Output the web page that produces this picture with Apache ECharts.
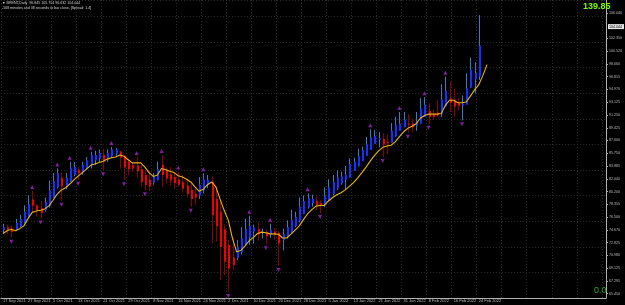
<!DOCTYPE html>
<html>
<head>
<meta charset="utf-8">
<script src="https://cdn.jsdelivr.net/npm/echarts@6/dist/echarts.min.js"></script>
<style>
  html, body { margin: 0; padding: 0; background: #000; }
  #chart { width: 625px; height: 305px; }
</style>
</head>
<body>
<div id="chart"></div>
<script>
// date labels under the axis, one every 6 bars
var dateLabels = ['17 Sep 2021', '27 Sep 2021', '5 Oct 2021', '13 Oct 2021', '21 Oct 2021', '29 Oct 2021',
    '8 Nov 2021', '16 Nov 2021', '24 Nov 2021', '2 Dec 2021', '10 Dec 2021', '20 Dec 2021', '28 Dec 2021',
    '5 Jan 2022', '13 Jan 2022', '21 Jan 2022', '31 Jan 2022', '8 Feb 2022', '16 Feb 2022', '24 Feb 2022'];

// price scale labels on the right
var priceLabels = [65.450, 67.295, 69.125, 70.980, 72.825, 74.670, 76.500, 78.355, 80.200, 82.040, 83.885,
    85.750, 87.600, 89.425, 91.250, 93.125, 94.970, 96.815, 98.660, 100.520, 102.350, 106.040];
var lastPrice = 104.044;

// heikin ashi bars
var haOpen = [74.65, 75.05, 74.85, 74.65, 75.15, 75.75, 76.55, 79.05, 78.25, 77.8,
    77.5, 78.1, 79.3, 80.85, 82.2, 80.85, 81.7, 82.65, 83.35, 82.95,
    83.55, 84.2, 84.7, 85.0, 85.5, 84.9, 85.3, 85.7, 86.0, 85.4,
    84.5, 84.0, 84.0, 83.45, 82.6, 81.9, 81.5, 81.9, 84.1, 83.2,
    82.7, 82.3, 81.9, 81.6, 81.1, 80.45, 79.85, 79.65, 80.4, 81.2,
    81.6, 79.15, 77.3, 74.75, 72.5, 70.7, 70.6, 71.4, 72.5, 73.6,
    74.45, 74.75, 74.25, 74.35, 74.05, 74.45, 74.25, 73.2, 73.65, 74.35,
    75.25, 75.95, 77.0, 77.95, 78.55, 78.85, 78.55, 78.35, 78.95, 79.85,
    80.7, 81.4, 81.9, 82.25, 83.2, 83.85, 84.6, 85.4, 86.2, 87.1,
    87.7, 87.8, 87.4, 87.3, 88.15, 89.0, 89.5, 90.05, 90.0, 89.75,
    90.0, 91.0, 91.85, 91.4, 91.6, 91.4, 92.5, 93.7, 93.4, 93.0,
    92.6, 92.8, 95.25, 96.45, 96.85];
var haClose = [75.05, 74.65, 74.35, 75.65, 76.25, 77.3, 78.35, 78.15, 77.5, 77.1,
    78.65, 80.35, 81.7, 82.85, 80.95, 82.2, 83.65, 83.75, 82.85, 84.05,
    84.75, 85.5, 85.5, 85.8, 84.5, 85.8, 86.3, 86.3, 85.1, 83.7,
    83.45, 83.55, 83.15, 81.6, 81.15, 80.95, 82.4, 83.45, 82.6, 82.1,
    81.8, 81.4, 81.2, 80.6, 79.85, 79.15, 79.35, 81.2, 82.0, 81.9,
    76.8, 75.25, 72.2, 70.1, 69.1, 69.6, 72.15, 73.5, 74.75, 75.25,
    75.05, 74.05, 74.35, 73.7, 74.65, 73.95, 72.7, 74.05, 75.05, 76.05,
    76.55, 78.0, 78.85, 79.25, 79.15, 78.25, 78.15, 79.55, 80.8, 81.6,
    82.2, 82.4, 82.6, 84.2, 84.5, 85.3, 86.2, 87.05, 88.0, 88.25,
    87.9, 87.0, 87.2, 89.0, 89.8, 90.05, 90.6, 89.95, 89.5, 90.3,
    92.2, 92.75, 91.0, 91.0, 91.2, 93.5, 94.75, 93.0, 92.5, 92.6,
    92.9, 95.15, 97.8, 97.35, 101.3];
var haLow = [74.15, 74.05, 73.55, 74.55, 75.05, 75.65, 76.45, 77.3, 76.6, 76.3,
    77.3, 77.9, 79.3, 80.65, 78.9, 80.55, 81.6, 82.45, 81.9, 82.65,
    83.35, 83.55, 84.05, 84.5, 83.3, 84.5, 85.1, 85.4, 83.5, 81.85,
    82.55, 83.05, 82.25, 80.9, 80.4, 80.3, 81.2, 81.8, 80.9, 81.4,
    81.1, 80.6, 80.9, 80.05, 79.45, 78.0, 78.3, 79.15, 79.95, 80.7,
    72.7, 73.0, 67.4, 68.1, 65.7, 68.9, 70.3, 71.1, 72.4, 72.5,
    72.7, 73.1, 73.45, 72.6, 73.55, 73.25, 69.45, 71.7, 73.45, 74.25,
    75.05, 75.75, 77.0, 77.75, 78.05, 77.5, 77.1, 77.95, 78.85, 79.65,
    80.4, 81.2, 80.6, 82.25, 83.2, 83.85, 84.6, 85.4, 86.2, 87.1,
    86.6, 85.2, 85.6, 87.3, 88.15, 89.0, 89.5, 88.7, 88.8, 89.0,
    90.0, 91.0, 90.0, 90.6, 91.0, 91.0, 92.5, 91.7, 91.0, 92.0,
    90.5, 92.8, 95.15, 94.4, 96.35];
var haHigh = [75.55, 75.45, 75.25, 76.25, 76.85, 78.25, 79.65, 80.3, 78.35, 78.9,
    79.35, 81.8, 82.9, 83.55, 83.0, 82.9, 84.5, 84.5, 83.75, 84.5,
    85.2, 85.95, 86.1, 86.3, 86.4, 86.3, 86.65, 86.5, 86.1, 85.5,
    84.9, 84.5, 85.2, 84.05, 83.2, 83.2, 82.9, 84.5, 85.5, 83.75,
    83.75, 82.9, 83.1, 82.6, 82.0, 81.3, 80.75, 82.3, 82.85, 82.6,
    82.4, 80.9, 78.85, 75.45, 73.2, 73.6, 73.2, 75.05, 76.3, 76.7,
    75.45, 75.75, 74.85, 74.75, 75.55, 74.95, 74.55, 74.85, 76.05, 77.6,
    77.3, 79.35, 79.65, 79.95, 79.75, 79.65, 78.95, 80.8, 82.0, 82.6,
    83.3, 83.1, 83.9, 85.0, 85.1, 86.4, 86.7, 88.1, 89.2, 89.1,
    88.8, 88.6, 88.5, 90.1, 91.0, 91.7, 91.7, 91.4, 90.7, 91.7,
    93.7, 93.85, 93.05, 92.0, 93.4, 95.7, 96.8, 96.1, 95.0, 93.7,
    94.1, 97.3, 99.55, 98.9, 105.7];

// shifted moving average (yellow line), two bars past the last candle
var maLine = [74.15, 74.55, 74.75, 74.55, 74.85, 75.25, 76.3, 77.2, 77.4, 77.5,
    77.7, 78.15, 78.95, 79.85, 80.45, 80.75, 81.3, 81.9, 82.45, 82.95,
    83.45, 84.0, 84.2, 84.4, 84.6, 84.9, 85.1, 85.2, 85.5, 85.3,
    84.8, 84.35, 84.35, 84.35, 83.75, 82.95, 82.4, 82.6, 83.55, 83.35,
    83.15, 82.95, 82.5, 82.3, 82.0, 81.6, 80.9, 80.25, 80.55, 81.2,
    81.6, 80.9, 79.15, 77.5, 76.05, 73.4, 71.5, 71.7, 72.35, 73.1,
    73.6, 74.15, 74.35, 74.25, 74.1, 74.1, 74.05, 73.5, 73.5, 74.05,
    74.65, 75.25, 76.15, 77.0, 77.6, 78.1, 78.2, 78.2, 78.85, 79.35,
    79.75, 80.05, 80.45, 80.95, 81.5, 82.2, 82.95, 83.75, 84.6, 85.4,
    86.1, 86.6, 86.8, 86.9, 87.4, 88.15, 88.85, 89.35, 89.65, 90.0,
    90.8, 91.2, 91.4, 91.4, 91.4, 91.5, 92.65, 93.4, 93.4, 93.05,
    93.05, 93.15, 94.0, 94.9, 95.65, 97.0, 98.55];

// bars carrying a fractal arrow
var fractalUp = [7, 13, 16, 21, 26, 32, 38, 42, 48, 59, 64, 73, 88, 95, 101, 106];
var fractalDown = [2, 9, 14, 18, 24, 29, 34, 45, 54, 63, 66, 76, 91, 97, 102, 110];

var slotCount = 145;

var categories = [];
for (var i = 0; i < slotCount; i++) categories.push(String(i));

var barData = haOpen.map(function (o, i) {
    return [i, o, haClose[i], haLow[i], haHigh[i]];
});
var upData = fractalUp.map(function (i) { return [i, haHigh[i]]; });
var downData = fractalDown.map(function (i) { return [i, haLow[i]]; });

function renderBar(params, api) {
    var i = api.value(0);
    var o = api.value(1), c = api.value(2), l = api.value(3), h = api.value(4);
    var top = api.coord([i, h]);
    var bot = api.coord([i, l]);
    var po = api.coord([i, o]);
    var pc = api.coord([i, c]);
    var col = Math.round(top[0]);
    var up = c >= o;
    var y1 = Math.min(po[1], pc[1]);
    var y2 = Math.max(po[1], pc[1]);
    return {
        type: 'group',
        children: [
            {
                type: 'line',
                shape: { x1: col + 0.5, y1: top[1], x2: col + 0.5, y2: bot[1] },
                style: { stroke: up ? '#3a7cc6' : '#8e0000', lineWidth: 1 }
            },
            {
                type: 'rect',
                shape: { x: col, y: y1, width: 2, height: Math.max(1, y2 - y1) },
                style: { fill: up ? '#1432ff' : '#f00000' }
            }
        ]
    };
}

var chart = echarts.init(document.getElementById('chart'), null, { renderer: 'canvas' });

var option = {
    backgroundColor: '#000000',
    animation: false,
    grid: { left: 0, right: 18, top: 0, bottom: 7 },
    xAxis: {
        type: 'category',
        data: categories,
        boundaryGap: true,
        axisLine: { lineStyle: { color: '#b0b0b0', width: 1 } },
        axisTick: { interval: 5, alignWithLabel: true, length: 2, lineStyle: { color: '#b0b0b0' } },
        axisLabel: {
            interval: 5,
            align: 'left',
            margin: 1,
            color: '#bdbdbd',
            fontSize: 4,
            fontFamily: 'Liberation Sans',
            formatter: function (v, idx) {
                return dateLabels[idx / 6] || '';
            }
        },
        splitLine: { show: true, interval: 5, lineStyle: { color: '#2a2a2a', type: [1, 2], width: 1 } }
    },
    yAxis: [
        {
            type: 'value',
            position: 'right',
            min: 64.83,
            max: 107.89,
            axisLine: { show: true, lineStyle: { color: '#b0b0b0', width: 1 } },
            axisTick: { show: true, length: 2, customValues: priceLabels, lineStyle: { color: '#b0b0b0' } },
            axisLabel: {
                customValues: priceLabels,
                margin: 3,
                color: '#bdbdbd',
                fontSize: 3.6,
                fontFamily: 'Liberation Sans',
                formatter: function (v) { return v.toFixed(3); }
            },
            splitLine: { show: false }
        },
        {
            // only used for the dotted horizontal grid
            type: 'value',
            min: 0,
            max: 298,
            interval: 25.6,
            show: true,
            axisLine: { show: false },
            axisTick: { show: false },
            axisLabel: { show: false },
            splitLine: { show: true, lineStyle: { color: '#2a2a2a', type: [1, 2], width: 1 } }
        }
    ],
    series: [
        {
            name: 'Heikin Ashi',
            type: 'custom',
            renderItem: renderBar,
            encode: { x: 0, y: [1, 2, 3, 4] },
            data: barData,
            z: 2
        },
        {
            name: 'MA',
            type: 'line',
            data: maLine,
            showSymbol: false,
            symbol: 'none',
            lineStyle: { color: '#e6b41c', width: 1.1 },
            z: 3
        },
        {
            name: 'Fractal up',
            type: 'scatter',
            data: upData,
            symbol: 'triangle',
            symbolSize: [4, 4],
            symbolOffset: [0, -4],
            itemStyle: { color: '#a523c8' },
            z: 4
        },
        {
            name: 'Fractal down',
            type: 'scatter',
            data: downData,
            symbol: 'triangle',
            symbolRotate: 180,
            symbolSize: [4, 4],
            symbolOffset: [0, 4],
            itemStyle: { color: '#a523c8' },
            z: 4
        }
    ]
};
chart.setOption(option);

// texts drawn by the terminal and the current price tag on the scale
var tagY = chart.convertToPixel({ yAxisIndex: 0 }, lastPrice);
chart.setOption({
    graphic: [
        {
            type: 'text', left: 2, top: 1, z: 10,
            style: {
                text: '\u25BC BRENT,Daily  96.845 105.754 96.632 104.044\n-568 minutes and 38 seconds to bar close. [Spread: 1.4]',
                fill: '#d0d0d0', font: '3.6px "Liberation Sans"', lineHeight: 4.5
            }
        },
        {
            type: 'text', left: 583, top: 2, z: 10,
            style: { text: '139.85', fill: '#7cfc00', font: 'bold 9px "Liberation Sans"' }
        },
        {
            type: 'text', left: 594, top: 286, z: 10,
            style: { text: '0.0', fill: '#22a822', font: '9px "Liberation Sans"' }
        },
        {
            type: 'rect', left: 608, top: tagY - 2.5, z: 10,
            shape: { width: 16, height: 5 },
            style: { fill: '#e6e6e6' }
        },
        {
            type: 'text', left: 609, top: tagY - 2, z: 11,
            style: { text: lastPrice.toFixed(3), fill: '#000000', font: '3.6px "Liberation Sans"' }
        }
    ]
});
</script>
</body>
</html>
